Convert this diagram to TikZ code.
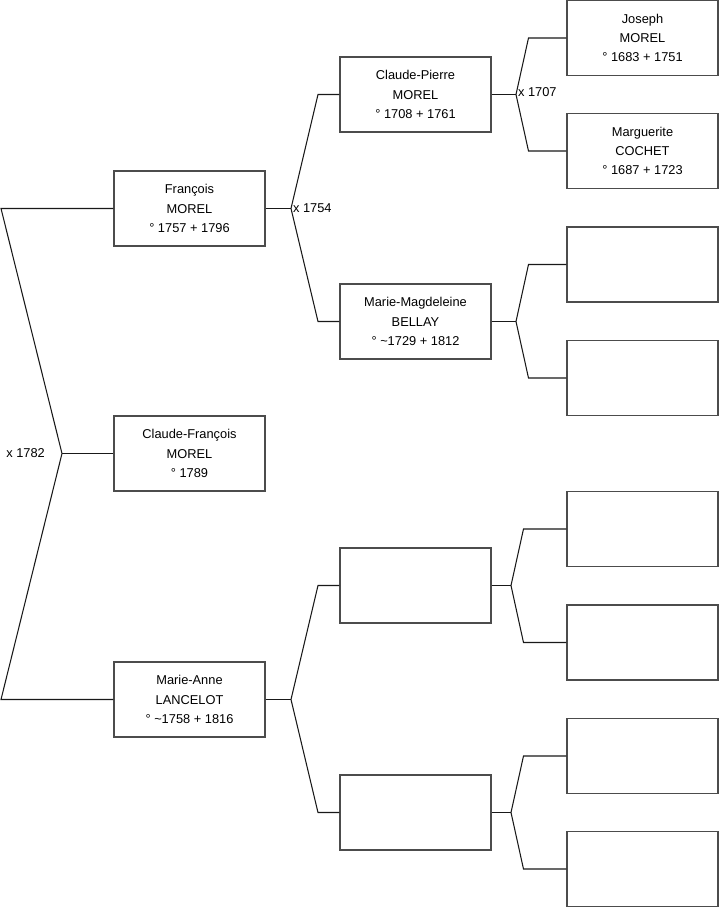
\documentclass[tikz,border=0pt]{standalone}
\usepackage{fontspec}
\setmainfont{Liberation Sans}
\usetikzlibrary{positioning}

\begin{document}
\begin{tikzpicture}[x=0.02cm,y=-0.02cm,
   person/.style={draw=black!70,line width=0.6pt,fill=white,
     minimum width=3.02cm,minimum height=1.5cm,inner sep=0pt,
     align=center,font=\fontsize{7.3}{11}\selectfont},
   link/.style={line width=0.6pt,black!90},
   mar/.style={font=\fontsize{7.3}{11}\selectfont,inner sep=1pt}]
  \useasboundingbox (0,0) rectangle (719,908);
  % generation 1
  \node[person] (fran) at (189.5,208.5) {François\\MOREL\\° 1757 + 1796};
  \node[person] (cf)   at (189.5,453.5) {Claude-François\\MOREL\\° 1789};
  \node[person] (ma)   at (189.5,699.5) {Marie-Anne\\LANCELOT\\° \textasciitilde1758 + 1816};
  % generation 2
  \node[person] (cp)  at (415.5,94.5)  {Claude-Pierre\\MOREL\\° 1708 + 1761};
  \node[person] (mm)  at (415.5,321.5) {Marie-Magdeleine\\BELLAY\\° \textasciitilde1729 + 1812};
  \node[person] (g2a) at (415.5,585.5) {};
  \node[person] (g2b) at (415.5,812.5) {};
  % generation 3
  \node[person] (jos)  at (642.5,38)  {Joseph\\MOREL\\° 1683 + 1751};
  \node[person] (marg) at (642.5,151) {Marguerite\\COCHET\\° 1687 + 1723};
  \foreach \n/\y in {g3a/264.5,g3b/378,g3c/529,g3d/642.5,g3e/756,g3f/869}
    \node[person] (\n) at (642.5,\y) {};
  % marriage forks
  \coordinate (m1782) at (62,453.5);
  \coordinate (r0) at (1,208.5);
  \coordinate (r1) at (1,699.5);
  \coordinate (m1754) at (291,208.5);
  \coordinate (mAnne) at (291,699.5);
  \coordinate (m1707) at (516,94.5);
  \coordinate (mBel)  at (516,321.5);
  \coordinate (mG2a)  at (511,585.5);
  \coordinate (mG2b)  at (511,812.5);
  % root couple
  \draw[link] (fran.west) -- (r0) -- (m1782) -- (r1) -- (ma.west);
  \draw[link] (m1782) -- (cf.west);
  \node[mar,left=0.3cm] at (m1782) {x 1782};
  % parents
  \foreach \c/\f/\a/\b/\d in {fran/m1754/cp/mm/21.5,ma/mAnne/g2a/g2b/21.5,
      cp/m1707/jos/marg/38,mm/mBel/g3a/g3b/38,
      g2a/mG2a/g3c/g3d/43,g2b/mG2b/g3e/g3f/43}{
    \draw[link] (\c.east) -- (\f);
    \draw[link] (\a.west) -- ++(-\d,0) -- (\f);
    \draw[link] (\b.west) -- ++(-\d,0) -- (\f);
  }
  \node[mar,right] at (m1754) {x 1754};
  \node[mar,right,yshift=1.5pt] at (m1707) {x 1707};
\end{tikzpicture}
\end{document}
